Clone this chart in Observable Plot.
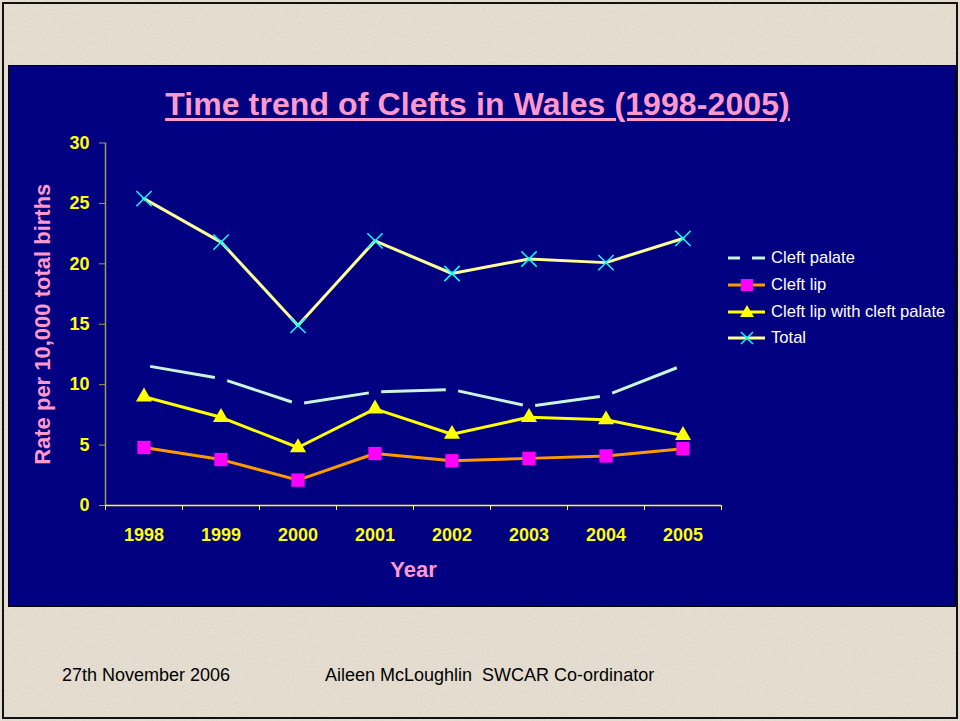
<!DOCTYPE html>
<html>
<head>
<meta charset="utf-8">
<script src="https://cdn.jsdelivr.net/npm/d3@7"></script>
<script src="https://cdn.jsdelivr.net/npm/@observablehq/plot@0.6"></script>
<style>
  html, body { margin: 0; padding: 0; }
  body { width: 960px; height: 721px; position: relative; overflow: hidden;
         background: #e4ddd0; font-family: Arial, "Liberation Sans", sans-serif; }
  #texture { position: absolute; left: 0; top: 0; width: 960px; height: 721px; }
  #frame { position: absolute; left: 2px; top: 2px; width: 952px; height: 713px; border: 2px solid #111; }
  #panel { position: absolute; left: 8px; top: 65px; width: 946px; height: 540px;
           background: #000080; border: 1px solid #000; }
  #title { position: absolute; left: 0; width: 955px; top: 88px; text-align: center;
           color: #ff99cc; font-weight: bold; font-size: 32px; line-height: 32px; letter-spacing: 0.1px;
           text-decoration: underline; text-decoration-thickness: 3px; text-underline-offset: 3px; }
  #chart { position: absolute; left: 8px; top: 130px; }
  #legend { position: absolute; left: 727px; top: 245px; color: #fff; font-size: 16.6px; }
  .row { height: 26.7px; display: flex; align-items: center; }
  .row svg { margin-right: 4px; }
  .foot { position: absolute; top: 666px; font-size: 18px; line-height: 18px; color: #000; }
</style>
</head>
<body>
<svg id="texture" width="960" height="721">
  <filter id="grain"><feTurbulence type="fractalNoise" baseFrequency="0.9" numOctaves="2" seed="3"/>
    <feColorMatrix type="matrix" values="0 0 0 0 0.45  0 0 0 0 0.40  0 0 0 0 0.32  0 0 0 -1.6 0.75"/></filter>
  <rect width="960" height="721" filter="url(#grain)" opacity="0.35"/>
</svg>
<div id="frame"></div>
<div id="panel"></div>
<div id="title">Time trend of Clefts in Wales (1998-2005)</div>
<div id="chart"></div>
<div id="legend"></div>
<div class="foot" style="left:62px">27th November 2006</div>
<div class="foot" style="left:325px">Aileen McLoughlin&nbsp;&nbsp;SWCAR Co-ordinator</div>
<script>
// ---- data ----
const years = [1998, 1999, 2000, 2001, 2002, 2003, 2004, 2005];
const cleftPalate    = [11.6, 10.5, 8.4, 9.4, 9.6, 8.2, 9.1, 11.6];
const cleftLip       = [4.8, 3.8, 2.1, 4.3, 3.7, 3.9, 4.1, 4.7];
const cleftLipPalate = [9.0, 7.3, 4.8, 8.0, 5.9, 7.3, 7.1, 5.8];
const total          = [25.4, 21.8, 14.9, 21.9, 19.2, 20.4, 20.1, 22.1];
const yTicks = [0, 5, 10, 15, 20, 25, 30];
const seriesNames = ["Cleft palate", "Cleft lip", "Cleft lip with cleft palate", "Total"];
const yLabel = "Rate per 10,000 total births";
const xLabel = "Year";

const rows = vals => years.map((year, i) => ({year, value: vals[i]}));
const segments = vals => years.slice(0, -1).map((y, i) => ({x1: y, y1: vals[i], x2: years[i + 1], y2: vals[i + 1]}));
const boundaries = d3.range(years[0] - 0.5, years[years.length - 1] + 1, 1);

const font = "Arial, 'Liberation Sans', sans-serif";
const plot = Plot.plot({
  width: 760, height: 470,
  marginLeft: 97, marginRight: 47, marginTop: 12.5, marginBottom: 95,
  style: {background: "transparent", fontFamily: font, overflow: "visible"},
  x: {type: "linear", domain: [years[0] - 0.5, years[years.length - 1] + 0.5]},
  y: {domain: [0, 30]},
  marks: [
    Plot.ruleX([years[0] - 0.5], {stroke: "#a09c58", strokeWidth: 1.5}),
    Plot.axisY({ticks: yTicks, tickSize: 6, tickPadding: 10, stroke: "#a09c58", fill: "#ffff00",
                fontSize: 18, fontWeight: "bold", label: null}),
    Plot.ruleY([0], {stroke: "#ffff00", strokeWidth: 1.5}),
    Plot.axisX({ticks: boundaries, tickSize: 5, tickFormat: () => "", stroke: "#ffff00", label: null}),
    Plot.axisX({ticks: years, tickSize: 0, tickPadding: 23, tickFormat: d => String(d), fill: "#ffff00",
                fontSize: 18, fontWeight: "bold", label: null}),
    Plot.text([yLabel], {frameAnchor: "left", dx: -63, rotate: -90, fill: "#ff99cc", fontSize: 22,
                         fontWeight: "bold", textAnchor: "middle", lineAnchor: "middle"}),
    Plot.text([xLabel], {frameAnchor: "bottom", dy: 64, fill: "#ff99cc", fontSize: 22,
                         fontWeight: "bold", textAnchor: "middle", lineAnchor: "middle"}),
    // Cleft palate: dashed, one dash per segment
    Plot.link(segments(cleftPalate), {x1: "x1", y1: "y1", x2: "x2", y2: "y2", stroke: "#c8f5dc",
                                     strokeWidth: 3, strokeLinecap: "butt", strokeDasharray: "0 8 84 100"}),
    // Cleft lip
    Plot.line(rows(cleftLip), {x: "year", y: "value", stroke: "#ff9900", strokeWidth: 3}),
    Plot.dot(rows(cleftLip), {x: "year", y: "value", symbol: "square", fill: "#ff00ff", r: 7.5}),
    // Cleft lip with cleft palate
    Plot.line(rows(cleftLipPalate), {x: "year", y: "value", stroke: "#ffff00", strokeWidth: 3}),
    Plot.dot(rows(cleftLipPalate), {x: "year", y: "value", symbol: "triangle", fill: "#ffff00", r: 6}),
    // Total
    Plot.line(rows(total), {x: "year", y: "value", stroke: "#ffff99", strokeWidth: 3}),
    Plot.dot(rows(total), {x: "year", y: "value", symbol: "times", stroke: "#00ffff", strokeWidth: 1.5, r: 7})
  ]
});
d3.select(plot).selectAll("g[aria-label='link'] path").attr("pathLength", 100);
document.getElementById("chart").appendChild(plot);

// ---- legend ----
const legend = d3.select("#legend");
seriesNames.forEach((name, i) => {
  const row = legend.append("div").attr("class", "row");
  const s = row.append("svg").attr("width", 40).attr("height", 16);
  if (i === 0) {
    s.append("line").attr("x1", 1).attr("x2", 13).attr("y1", 8).attr("y2", 8).attr("stroke", "#c8f5dc").attr("stroke-width", 3);
    s.append("line").attr("x1", 25).attr("x2", 38).attr("y1", 8).attr("y2", 8).attr("stroke", "#c8f5dc").attr("stroke-width", 3);
  } else if (i === 1) {
    s.append("line").attr("x1", 1).attr("x2", 38).attr("y1", 8).attr("y2", 8).attr("stroke", "#ff9900").attr("stroke-width", 3);
    s.append("rect").attr("x", 14).attr("y", 2).attr("width", 12).attr("height", 12).attr("fill", "#ff00ff");
  } else if (i === 2) {
    s.append("line").attr("x1", 1).attr("x2", 38).attr("y1", 8).attr("y2", 8).attr("stroke", "#ffff00").attr("stroke-width", 3);
    s.append("path").attr("d", "M20,1L27,13L13,13Z").attr("fill", "#ffff00");
  } else {
    s.append("line").attr("x1", 1).attr("x2", 38).attr("y1", 8).attr("y2", 8).attr("stroke", "#ffff99").attr("stroke-width", 3);
    s.append("path").attr("d", "M14,2L26,14M26,2L14,14").attr("stroke", "#00ffff").attr("stroke-width", 1.5);
  }
  row.append("span").text(name);
});
</script>
</body>
</html>
